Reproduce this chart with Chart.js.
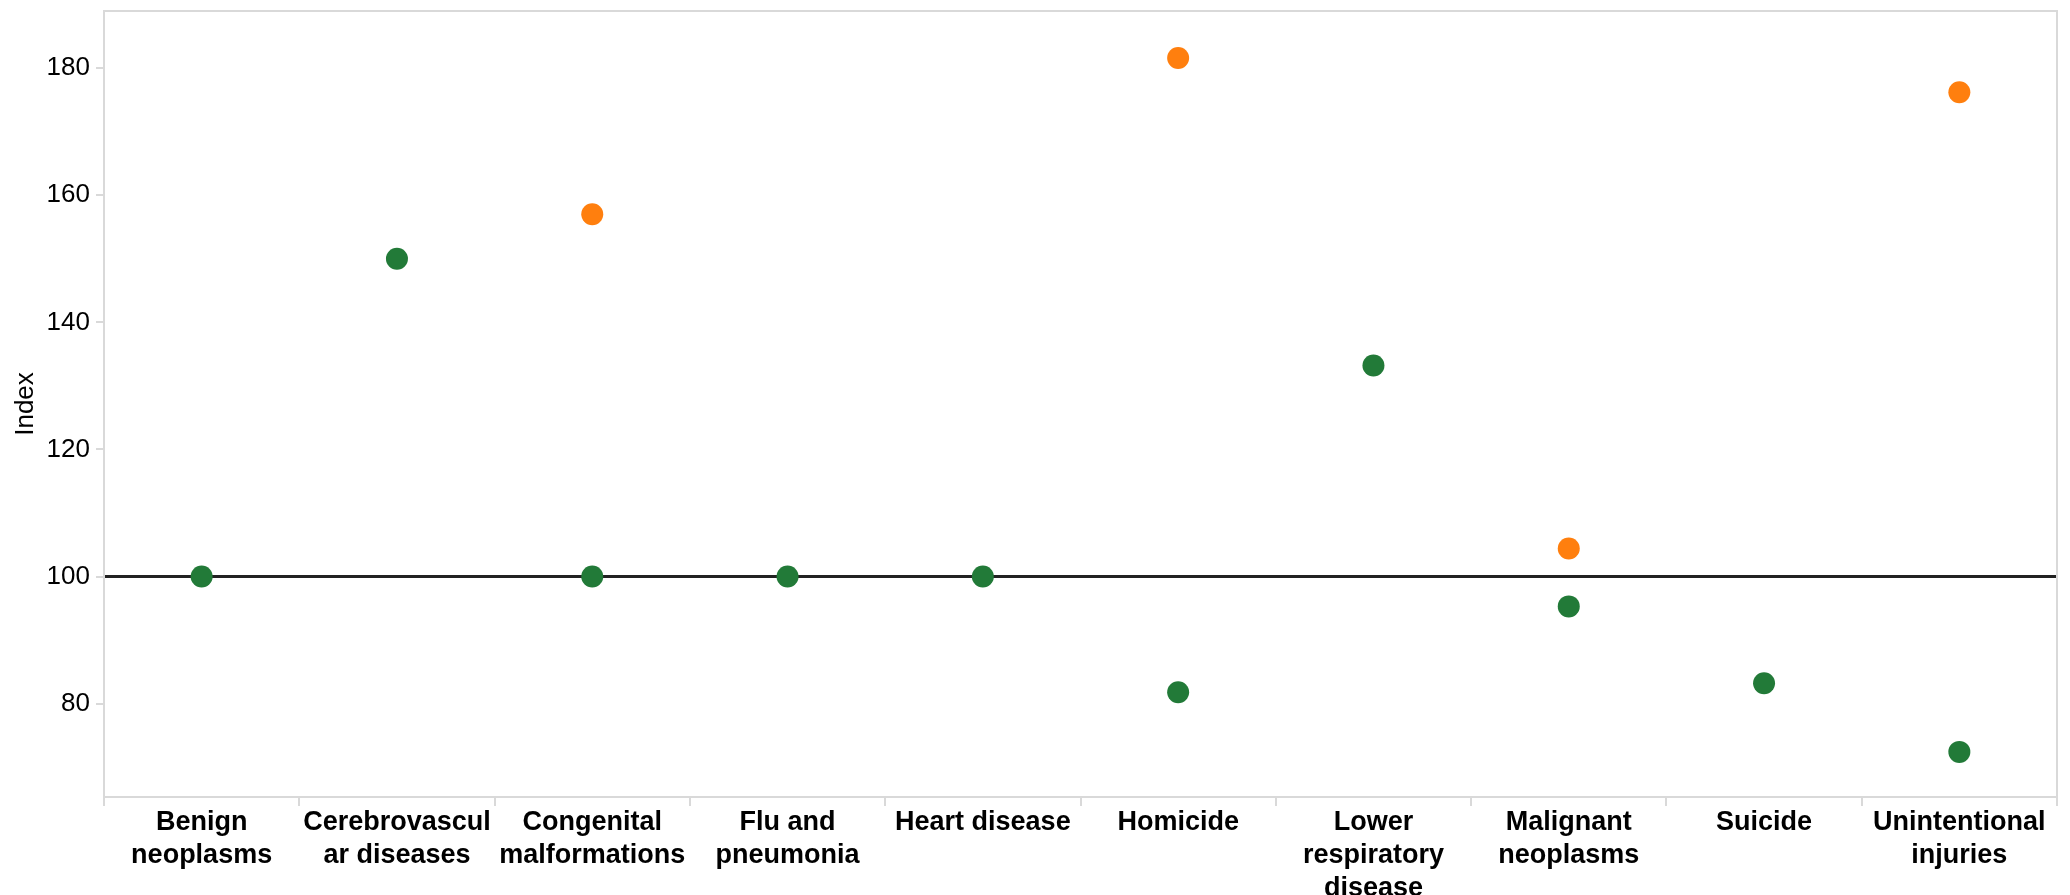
<!DOCTYPE html>
<html>
<head>
<meta charset="utf-8">
<script src="https://cdn.jsdelivr.net/npm/chart.js@4/dist/chart.umd.min.js"></script>
<style>
  body { margin: 0; background: #fff; }
  #wrap { width: 2070px; height: 895px; }
</style>
</head>
<body>
<div id="wrap"><canvas id="chart" width="2070" height="895"></canvas></div>
<script>
// categories (already wrapped the way the reference wraps them)
const categories = [
  ['Benign', 'neoplasms'],
  ['Cerebrovascul', 'ar diseases'],
  ['Congenital', 'malformations'],
  ['Flu and', 'pneumonia'],
  ['Heart disease'],
  ['Homicide'],
  ['Lower', 'respiratory', 'disease'],
  ['Malignant', 'neoplasms'],
  ['Suicide'],
  ['Unintentional', 'injuries']
];

const greenValues = [100, 150.0, 100, 100, 100, 81.8, 133.2, 95.3, 83.2, 72.4];
const orangeValues = [null, null, 157.0, null, null, 181.6, null, 104.4, null, 176.2];

const yTicks = [80, 100, 120, 140, 160, 180];
const yMin = 65.3;
const yMax = 189.0;
const refValue = 100;

const fontFamily = "'Liberation Sans', Arial, sans-serif";
const axisGray = '#d9d9d9';

// full-width reference line + frame around the plot
const framePlugin = {
  id: 'frame',
  beforeDatasetsDraw(chart) {
    const { ctx, chartArea: a, scales } = chart;
    const y = scales.y.getPixelForValue(refValue);
    ctx.save();
    ctx.strokeStyle = '#222';
    ctx.lineWidth = 3;
    ctx.beginPath();
    ctx.moveTo(a.left, y);
    ctx.lineTo(a.right, y);
    ctx.stroke();
    ctx.strokeStyle = axisGray;
    ctx.lineWidth = 2;
    ctx.strokeRect(a.left, a.top, a.right - a.left, a.bottom - a.top);
    ctx.restore();
  }
};

const ctx = document.getElementById('chart').getContext('2d');

new Chart(ctx, {
  type: 'line',
  data: {
    labels: categories,
    datasets: [
      {
        label: 'Green',
        data: greenValues,
        showLine: false,
        pointRadius: 11,
        pointHoverRadius: 11,
        pointBorderWidth: 0,
        backgroundColor: '#227a38',
        borderColor: '#227a38'
      },
      {
        label: 'Orange',
        data: orangeValues,
        showLine: false,
        pointRadius: 11,
        pointHoverRadius: 11,
        pointBorderWidth: 0,
        backgroundColor: '#ff7f0e',
        borderColor: '#ff7f0e'
      }
    ]
  },
  options: {
    responsive: false,
    animation: false,
    layout: { padding: { top: 7, right: 13, left: 0, bottom: 0 } },
    plugins: {
      legend: { display: false },
      tooltip: { enabled: false }
    },
    scales: {
      x: {
        type: 'category',
        offset: true,
        grid: {
          offset: true,
          drawOnChartArea: false,
          drawTicks: true,
          tickLength: 9,
          color: axisGray,
          lineWidth: 2
        },
        border: { color: axisGray, width: 2 },
        ticks: {
          color: '#000',
          padding: 0,
          maxRotation: 0,
          autoSkip: false,
          font: { family: fontFamily, size: 27, weight: 'bold', lineHeight: '33px' }
        },
        afterFit(scale) {
          scale.height = 98;
          scale.paddingLeft = 0;
          scale.paddingRight = 0;
        }
      },
      y: {
        min: yMin,
        max: yMax,
        grid: {
          drawOnChartArea: false,
          tickLength: 8,
          color: axisGray,
          lineWidth: 2
        },
        border: { color: axisGray, width: 2 },
        ticks: {
          color: '#000',
          padding: 6,
          font: { family: fontFamily, size: 26, lineHeight: '8px' }
        },
        afterBuildTicks(scale) {
          scale.ticks = yTicks.map(v => ({ value: v }));
        },
        title: {
          display: true,
          text: 'Index',
          color: '#000',
          padding: { top: 10, bottom: 0 },
          font: { family: fontFamily, size: 26 }
        },
        afterFit(scale) {
          scale.width = 104;
          scale.paddingTop = 0;
          scale.paddingBottom = 0;
        }
      }
    }
  },
  plugins: [framePlugin]
});
</script>
</body>
</html>
